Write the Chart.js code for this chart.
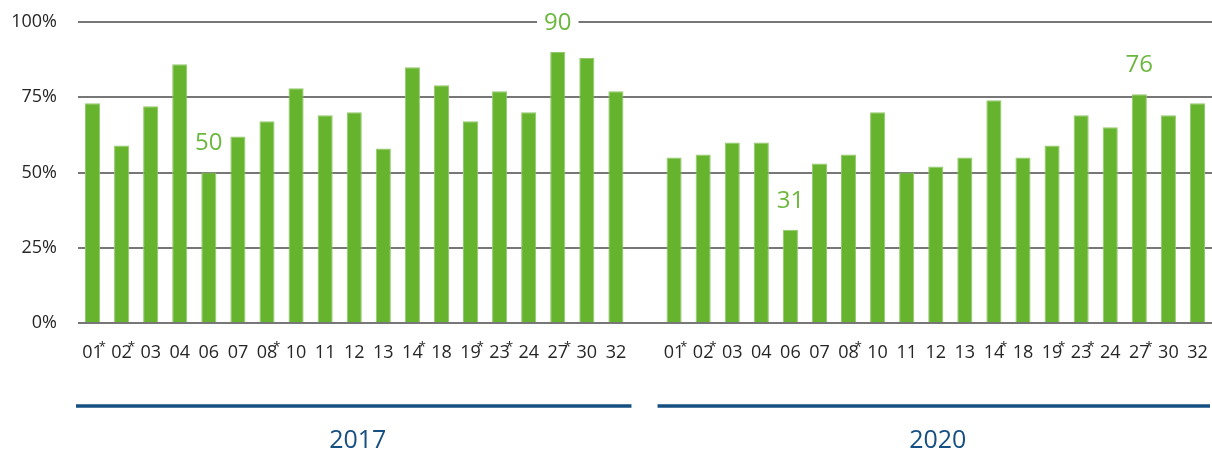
<!DOCTYPE html>
<html>
<head>
<meta charset="utf-8">
<script src="https://cdn.jsdelivr.net/npm/chart.js"></script>
<style>
  html, body { margin: 0; padding: 0; background: #fff; }
  #wrap { width: 1212px; height: 454px; }
</style>
</head>
<body>
<div id="wrap"><canvas id="chart"></canvas></div>
<script>
// region codes, the ones marked with * get a small superscript star
var regions = ['01', '02', '03', '04', '06', '07', '08', '10', '11', '12', '13', '14', '18', '19', '23', '24', '27', '30', '32'];
var starred = ['01', '02', '08', '14', '19', '23', '27'];

var values2017 = [73, 59, 72, 86, 50, 62, 67, 78, 69, 70, 58, 85, 79, 67, 77, 70, 90, 88, 77];
var values2020 = [55, 56, 60, 60, 31, 53, 56, 70, 50, 52, 55, 74, 55, 59, 69, 65, 76, 69, 73];

// bars that get their value written above them (index inside each year)
var labelled2017 = [4, 16];
var labelled2020 = [4, 16];

var years = ['2017', '2020'];
var yTicks = [0, 25, 50, 75, 100];

var GREEN = '#66b32e';
var LABEL_GREEN = '#6cb83f';
var BLUE = '#164f82';
var TEXT = '#262626';
var FONT = '"Open Sans", "Noto Sans", sans-serif';

// one empty slot between the two years
var allLabels = regions.concat([''], regions);
var allValues = values2017.concat([null], values2020);
var offset2020 = regions.length + 1;
var labelledIdx = labelled2017.concat(labelled2020.map(function (i) { return i + offset2020; }));

var starPlugin = {
    id: 'stars',
    afterDraw: function (chart) {
        var ctx = chart.ctx;
        var x = chart.scales.x;
        ctx.save();
        ctx.fillStyle = TEXT;
        x.ticks.forEach(function (t, i) {
            var lab = allLabels[i];
            if (starred.indexOf(lab) === -1) return;
            ctx.font = '18px ' + FONT;
            var w = ctx.measureText(lab).width;
            var px = x.getPixelForTick(i);
            ctx.font = '13px ' + FONT;
            ctx.textAlign = 'left';
            ctx.textBaseline = 'top';
            ctx.fillText('*', px + w / 2 - 4, 341);
        });
        ctx.restore();
    }
};

var yearPlugin = {
    id: 'years',
    afterDraw: function (chart) {
        var ctx = chart.ctx;
        var x = chart.scales.x;
        var slot = x.getPixelForValue(1) - x.getPixelForValue(0);
        ctx.save();
        years.forEach(function (yr, k) {
            var from = k * offset2020;
            var to = from + regions.length - 1;
            var x0 = x.getPixelForValue(from) - slot / 2 - 2;
            var x1 = Math.min(x.getPixelForValue(to) + slot / 2 + 1, chart.width - 2);
            ctx.strokeStyle = BLUE;
            ctx.lineWidth = 3.5;
            ctx.beginPath();
            ctx.moveTo(x0, 406);
            ctx.lineTo(x1, 406);
            ctx.stroke();
            ctx.fillStyle = BLUE;
            ctx.font = '25px ' + FONT;
            ctx.textAlign = 'center';
            ctx.textBaseline = 'middle';
            ctx.fillText(yr, (x0 + x1) / 2 + 4, 441);
        });
        ctx.restore();
    }
};

// value above the min / max bar of each year, on a white patch so it cuts the grid line
var valuePlugin = {
    id: 'values',
    afterDatasetsDraw: function (chart) {
        var ctx = chart.ctx;
        var meta = chart.getDatasetMeta(0);
        ctx.save();
        ctx.font = '24px ' + FONT;
        ctx.textAlign = 'center';
        ctx.textBaseline = 'middle';
        labelledIdx.forEach(function (i) {
            var bar = meta.data[i];
            var txt = String(allValues[i]);
            var w = ctx.measureText(txt).width;
            var cy = bar.y - 29;
            ctx.fillStyle = '#fff';
            ctx.fillRect(bar.x - w / 2 - 7, cy - 12, w + 14, 24);
            ctx.fillStyle = LABEL_GREEN;
            ctx.fillText(txt, bar.x, cy);
        });
        ctx.restore();
    }
};

new Chart(document.getElementById('chart'), {
    type: 'bar',
    data: {
        labels: allLabels,
        datasets: [{
            data: allValues,
            backgroundColor: GREEN,
            borderColor: '#93c96d',
            borderWidth: { left: 1, right: 1, top: 1, bottom: 0 },
            barPercentage: 0.52,
            categoryPercentage: 1
        }]
    },
    options: {
        responsive: true,
        maintainAspectRatio: false,
        animation: false,
        layout: { padding: { top: 22, right: 0, bottom: 0, left: 0 } },
        plugins: {
            legend: { display: false },
            tooltip: { enabled: false }
        },
        scales: {
            x: {
                grid: { display: false },
                border: { display: false },
                ticks: {
                    autoSkip: false,
                    maxRotation: 0,
                    padding: 11,
                    color: TEXT,
                    font: { family: FONT, size: 18 }
                },
                afterFit: function (scale) {
                    scale.height = 131;
                    scale.paddingLeft = 0;
                    scale.paddingRight = 0;
                }
            },
            y: {
                min: 0,
                max: 100,
                afterBuildTicks: function (scale) {
                    scale.ticks = yTicks.map(function (v) { return { value: v }; });
                },
                grid: { color: '#777', lineWidth: 2, drawTicks: false },
                border: { display: false },
                ticks: {
                    padding: 21,
                    color: TEXT,
                    font: { family: FONT, size: 18 },
                    callback: function (v) { return v + '%'; }
                },
                afterFit: function (scale) {
                    scale.width = 78;
                    scale.paddingTop = 0;
                    scale.paddingBottom = 0;
                }
            }
        }
    },
    plugins: [starPlugin, yearPlugin, valuePlugin]
});
</script>
</body>
</html>
